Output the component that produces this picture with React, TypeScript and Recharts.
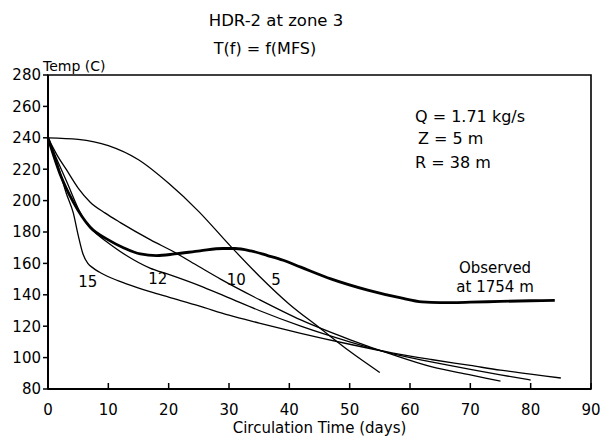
import React from "react";
import { LineChart, Line, XAxis, YAxis, ReferenceDot, ReferenceArea } from "recharts";

// Simulated outlet temperature for each fracture count, plus the logged curve
const curve5Days = [0, 5, 10, 15, 20, 25, 30, 35, 40, 45, 50, 55];
const curve5Temp = [240, 239, 235, 226, 211, 193, 172, 152, 134, 119, 104, 90.5];

const curve10Days = [0, 1.5, 3, 5, 7, 9.5, 12, 17, 21, 25, 28.6, 35, 41.9, 50, 57, 63.5, 70, 75];
const curve10Temp = [240, 229, 220, 208, 199, 192, 186, 175, 167, 158, 150, 137, 124, 111.5, 102, 94.2, 89, 85];

const curve12Days = [0, 1.5, 3, 5.8, 8, 10, 13, 16.9, 20, 25, 30, 35, 41.9, 50, 57, 63.5, 70, 75, 80];
const curve12Temp = [240, 226, 213, 189, 179, 173, 165, 157, 153, 146, 138, 130, 120, 110, 102.5, 97.3, 92.5, 89, 85.7];

const curve15Days = [0, 1, 2, 3, 4.2, 5, 5.8, 6.6, 7.5, 8.5, 10.3, 13, 16.9, 20, 25, 30, 35, 41.9, 50, 57, 63.5, 70, 75, 80, 85];
const curve15Temp = [240, 230, 218, 205, 192, 178, 166, 160, 157, 154.5, 151, 147, 142, 138.5, 133, 127, 122, 115.5, 108.5, 103, 98.8, 95, 92, 89.5, 87];

const observedDays = [0, 2, 4.2, 7, 10, 12.5, 15.3, 18, 21, 25.2, 29, 31, 33.6, 36.4, 39, 41.9, 47, 53, 58.5, 62, 65, 70, 75, 80, 84];
const observedTemp = [240, 217, 199, 183, 175, 170, 166, 165, 166, 168, 169.5, 169.5, 168, 165, 162, 157.6, 150, 143, 138, 135.5, 135, 135.3, 135.8, 136.2, 136.5];

const dayTicks = [0, 10, 20, 30, 40, 50, 60, 70, 80, 90];
const tempTicks = [80, 100, 120, 140, 160, 180, 200, 220, 240, 260, 280];

// curve tags sit just under their lines: [text, day, temp]
const curveTags: [string, number, number][] = [
  ["15", 6.6, 148.4],
  ["12", 18.2, 150.3],
  ["10", 31.2, 149.6],
  ["5", 37.8, 149.6],
  ["Observed", 74.1, 157.3],
  ["at 1754 m", 74.1, 145.2],
];

const toPoints = (days: number[], temps: number[]) =>
  days.map((d, i) => ({ d, t: temps[i] }));

const FONT = "'DejaVu Sans', sans-serif";

// plot box inside the 602x443 frame
const PLOT = { left: 48, top: 75, right: 591, bottom: 389 };

function DayTick(props: any) {
  const { x, payload } = props;
  // short tick pointing up into the plot, label below the axis
  return (
    <g>
      <path d={`M${x},${PLOT.bottom} V${PLOT.bottom - 6}`} stroke="#000" strokeWidth={1.5} />
      <text x={x} y={PLOT.bottom + 26} textAnchor="middle" fontSize={15} fill="#000" fontFamily={FONT}>
        {payload.value}
      </text>
    </g>
  );
}

const note = (left: number, top: number, size: number): React.CSSProperties => ({
  position: "absolute",
  left,
  top,
  fontSize: size,
  lineHeight: `${size}px`,
  whiteSpace: "nowrap",
  color: "#000",
});

export default function App() {
  const thin = { stroke: "#000", strokeWidth: 1.3, dot: false, type: "monotone" as const, isAnimationActive: false };

  return (
    <div
      style={{
        position: "absolute",
        left: 0,
        top: 0,
        width: 602,
        height: 443,
        background: "#fff",
        fontFamily: FONT,
      }}
    >
      <div style={{ ...note(126, 13, 16.5), width: 300, textAlign: "center" }}>HDR-2 at zone 3</div>
      <div style={{ ...note(115, 41, 16), width: 300, textAlign: "center" }}>T(f) = f(MFS)</div>
      <div style={note(43, 59, 14)}>Temp (C)</div>
      <div style={note(415, 109, 16)}>Q = 1.71 kg/s</div>
      <div style={note(418, 131, 16)}>Z = 5 m</div>
      <div style={note(415, 155, 16)}>R = 38 m</div>

      <LineChart
        width={602}
        height={443}
        margin={{ top: PLOT.top, right: 602 - PLOT.right, bottom: 0, left: 0 }}
        style={{ position: "absolute", left: 0, top: 0 }}
      >
        <XAxis
          dataKey="d"
          type="number"
          domain={[0, 90]}
          ticks={dayTicks}
          allowDuplicatedCategory={false}
          height={443 - PLOT.bottom}
          axisLine={{ stroke: "#000", strokeWidth: 2 }}
          tickLine={false}
          tick={<DayTick />}
          label={{
            value: "Circulation Time (days)",
            position: "insideBottom",
            offset: 10,
            fill: "#000",
            fontSize: 15,
            fontFamily: FONT,
          }}
        />
        <YAxis
          type="number"
          domain={[80, 280]}
          ticks={tempTicks}
          width={PLOT.left}
          axisLine={{ stroke: "#000", strokeWidth: 2 }}
          tickLine={{ stroke: "#000", strokeWidth: 1.5 }}
          tickSize={5}
          tickMargin={2}
          tick={{ fill: "#000", fontSize: 15, fontFamily: FONT }}
        />

        {/* plot frame */}
        <ReferenceArea x1={0} x2={90} y1={80} y2={280} fill="none" stroke="#000" strokeWidth={1.6} ifOverflow="visible" />

        <Line data={toPoints(curve5Days, curve5Temp)} dataKey="t" {...thin} />
        <Line data={toPoints(curve10Days, curve10Temp)} dataKey="t" {...thin} />
        <Line data={toPoints(curve12Days, curve12Temp)} dataKey="t" {...thin} />
        <Line data={toPoints(curve15Days, curve15Temp)} dataKey="t" {...thin} />
        <Line
          data={toPoints(observedDays, observedTemp)}
          dataKey="t"
          stroke="#000"
          strokeWidth={2.8}
          dot={false}
          type="monotone"
          isAnimationActive={false}
        />

        {curveTags.map(([text, d, t]) => (
          <ReferenceDot
            key={text}
            x={d}
            y={t}
            r={0}
            stroke="none"
            fill="none"
            label={{ value: text, position: "center", fill: "#000", fontSize: 15, fontFamily: FONT }}
          />
        ))}
      </LineChart>
    </div>
  );
}
